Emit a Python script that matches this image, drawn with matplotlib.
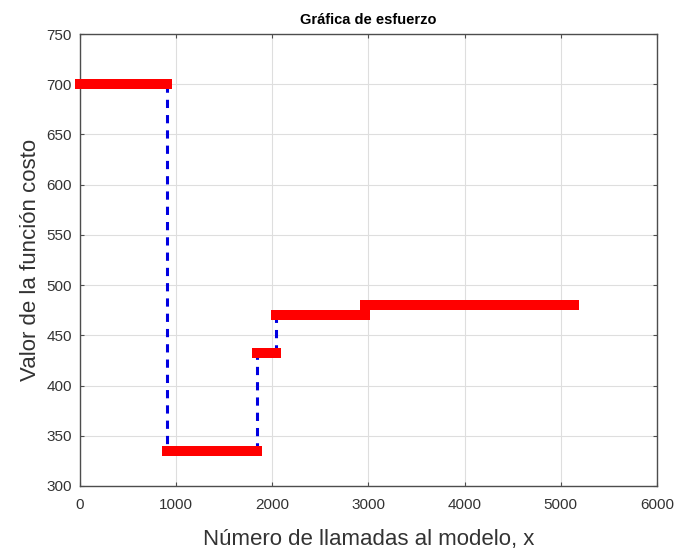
import numpy as np
import matplotlib
matplotlib.use("Agg")
import matplotlib.pyplot as plt

plt.rcParams['font.family'] = ['Liberation Sans', 'DejaVu Sans']

# escalones: x de inicio/fin de cada tramo y valor del costo
x_steps = [0, 905, 1840, 2035, 2960, 5140]
costo = [700, 335, 432, 470, 480]

fig = plt.figure(figsize=(6.8, 5.52), dpi=100)
ax = fig.add_axes([0.1176, 0.1196, 0.8485, 0.8188])

# lineas verticales discontinuas entre tramos
for i in range(1, len(costo)):
    ax.plot([x_steps[i], x_steps[i]], [costo[i-1], costo[i]], color='#0000e0',
            linestyle=(0, (2.7, 2.3)), linewidth=2.2, zorder=2)

# tramos horizontales
for i in range(len(costo)):
    ax.plot([x_steps[i], x_steps[i+1]], [costo[i], costo[i]], color='#ff0000',
            linewidth=7.2, solid_capstyle='projecting', zorder=3, clip_on=False)

ax.set_xlim(0, 6000)
ax.set_ylim(300, 750)
ax.set_xticks(np.arange(0, 6001, 1000))
ax.set_yticks(np.arange(300, 751, 50))
ax.grid(True, color='#dedede', linewidth=0.8)
ax.set_axisbelow(True)
for s in ax.spines.values():
    s.set_color('#4d4d4d')
    s.set_linewidth(1.0)
ax.tick_params(direction='in', length=3, colors='#4d4d4d', labelsize=11,
               top=True, right=True, labelcolor='#333333')
ax.tick_params(axis='x', pad=9)
ax.tick_params(axis='y', pad=6)

ax.set_title("Gráfica de esfuerzo", fontsize=10.5, fontweight='bold', pad=7)
ax.set_xlabel("Número de llamadas al modelo, x", fontsize=16, color='#333333', labelpad=12)
ax.set_ylabel("Valor de la función costo", fontsize=16, color='#333333', labelpad=4)

fig.savefig("out.png", dpi=100)
